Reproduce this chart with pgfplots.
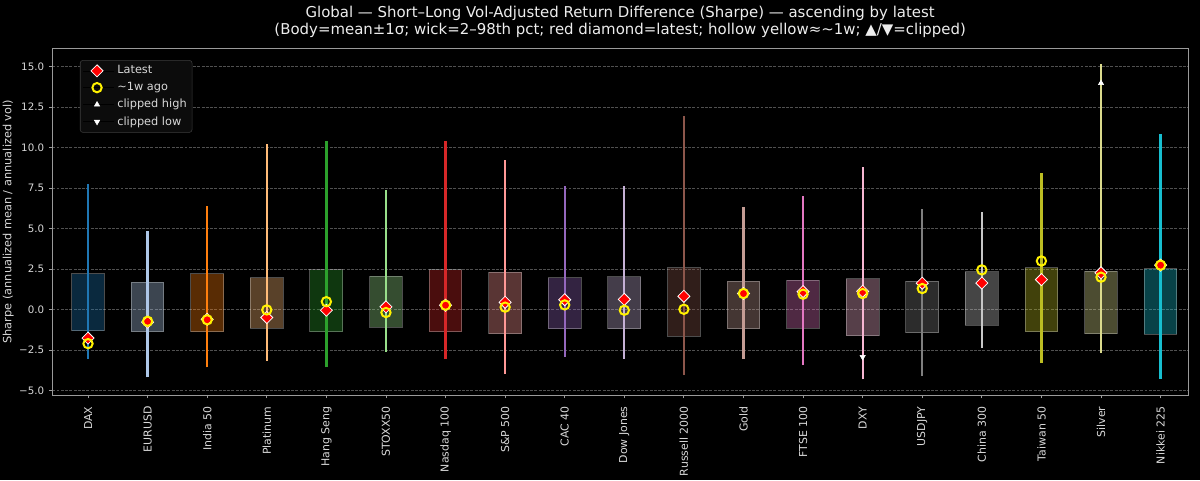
\documentclass[border=0pt]{standalone}
\usepackage{fontspec}
\setmainfont{DejaVu Sans}
\usepackage{pgfplots}
\usepackage{pgfplotstable}
\pgfplotsset{compat=1.18}

% tab20 colours, one per category
\definecolor{c0}{HTML}{1F77B4}
\definecolor{c1}{HTML}{AEC7E8}
\definecolor{c2}{HTML}{FF7F0E}
\definecolor{c3}{HTML}{FFBB78}
\definecolor{c4}{HTML}{2CA02C}
\definecolor{c5}{HTML}{98DF8A}
\definecolor{c6}{HTML}{D62728}
\definecolor{c7}{HTML}{FF9896}
\definecolor{c8}{HTML}{9467BD}
\definecolor{c9}{HTML}{C5B0D5}
\definecolor{c10}{HTML}{8C564B}
\definecolor{c11}{HTML}{C49C94}
\definecolor{c12}{HTML}{E377C2}
\definecolor{c13}{HTML}{F7B6D2}
\definecolor{c14}{HTML}{7F7F7F}
\definecolor{c15}{HTML}{C7C7C7}
\definecolor{c16}{HTML}{BCBD22}
\definecolor{c17}{HTML}{DBDB8D}
\definecolor{c18}{HTML}{17BECF}
\definecolor{ticktext}{HTML}{D8D8D8}
\definecolor{spine}{HTML}{9A9A9A}
\definecolor{gridc}{HTML}{505050}
\definecolor{legfill}{HTML}{0C0C0C}
\definecolor{legedge}{HTML}{3C3C3C}

% latest and ~1w ago values
\pgfplotstableread{
x  latest  prev
0  -1.76  -2.10
1  -0.78  -0.72
2  -0.60  -0.63
3  -0.49  -0.02
4  -0.04   0.49
5   0.17  -0.18
6   0.27   0.27
7   0.45   0.15
8   0.61   0.29
9   0.63  -0.04
10  0.82   0.02
11  0.99   0.99
12  1.11   0.95
13  1.13   0.99
14  1.63   1.30
15  1.64   2.45
16  1.85   3.00
17  2.27   2.00
18  2.74   2.74
}\marks

% x, left, right, colour, wick low, wick high, body low, body high
\newcommand{\cand}[8]{%
  \addplot[forget plot, draw=white, draw opacity=0.3, fill=#4, fill opacity=0.35, line width=0.75pt]
    coordinates {(#2,#7) (#3,#7) (#3,#8) (#2,#8)} -- cycle;
  \addplot[forget plot, #4, line width=1.7pt] coordinates {(#1,#5) (#1,#6)};
}

\begin{document}
\begin{tikzpicture}
\fill[black] (0,0) rectangle (900pt,360pt);
\useasboundingbox (0,0) rectangle (900pt,360pt);
\begin{axis}[
  at={(39.2pt,63.75pt)}, anchor=south west,
  scale only axis, width=851.8pt, height=260pt,
  xmin=-0.6, xmax=18.46, ymin=-5.27, ymax=16.12,
  xtick={0,...,18},
  xticklabels={DAX, EURUSD, India 50, Platinum, Hang Seng, STOXX50, Nasdaq 100, S\&P 500, CAC 40, Dow Jones, Russell 2000, Gold, FTSE 100, DXY, USDJPY, China 300, Taiwan 50, Silver, Nikkei 225},
  ytick={-5,-2.5,0,2.5,5,7.5,10,12.5,15},
  yticklabels={−5.0, −2.5, 0.0, 2.5, 5.0, 7.5, 10.0, 12.5, 15.0},
  ticklabel style={text=ticktext},
  xticklabel style={rotate=90, anchor=east, xshift=-2.5pt, font=\fontsize{8.2}{9.5}\selectfont},
  yticklabel style={font=\fontsize{7.7}{9}\selectfont},
  tick pos=left, tick align=outside,
  major tick length=2.6pt,
  every tick/.style={spine, line width=0.6pt},
  axis line style={spine, line width=0.6pt},
  ymajorgrids,
  grid style={gridc, line width=0.6pt, dash pattern=on 2.2pt off 1pt},
  ylabel={Sharpe (annualized mean / annualized vol)},
  every axis y label/.style={at={(axis description cs:0,0.5)}, xshift=-33pt, rotate=90, anchor=center,
    font=\fontsize{8.5}{10}\selectfont, text=ticktext},
  title={Global — Short–Long Vol-Adjusted Return Difference (Sharpe) — ascending by latest\\(Body=mean±1σ; wick=2–98th pct; red diamond=latest; hollow yellow≈\textasciitilde 1w; ▲/▼=clipped)},
  title style={align=center, font=\fontsize{11.2}{12.8}\selectfont, text=white!93!black, at={(0.5,1)}, anchor=south, yshift=-1.5pt},
  legend style={at={(0.0244,0.966)}, anchor=north west, fill=legfill, draw=legedge, rounded corners=2pt,
    text=ticktext, font=\fontsize{8.5}{10}\selectfont, row sep=0.9pt, inner sep=2pt},
  legend cell align=left,
  legend image code/.code={\path (0pt,0pt) -- (23.4pt,0pt); \draw[#1] plot coordinates {(10.4pt,0pt)};},
]
\cand{0}{-0.275}{0.275}{c0}{-3.06}{7.74}{-1.32}{2.20}
\cand{1}{0.725}{1.275}{c1}{-4.18}{4.86}{-1.36}{1.69}
\cand{2}{1.725}{2.275}{c2}{-3.56}{6.40}{-1.36}{2.20}
\cand{3}{2.725}{3.275}{c3}{-3.15}{10.23}{-1.15}{1.98}
\cand{4}{3.725}{4.275}{c4}{-3.56}{10.43}{-1.36}{2.47}
\cand{5}{4.725}{5.275}{c5}{-2.61}{7.39}{-1.09}{2.06}
\cand{6}{5.725}{6.275}{c6}{-3.06}{10.41}{-1.36}{2.45}
\cand{7}{6.725}{7.275}{c7}{-3.97}{9.20}{-1.48}{2.31}
\cand{8}{7.725}{8.275}{c8}{-2.94}{7.62}{-1.19}{1.96}
\cand{9}{8.725}{9.275}{c9}{-3.02}{7.60}{-1.19}{2.02}
\cand{10}{9.725}{10.275}{c10}{-4.01}{11.94}{-1.64}{2.59}
\cand{11}{10.725}{11.275}{c11}{-3.06}{6.34}{-1.19}{1.75}
\cand{12}{11.725}{12.275}{c12}{-3.43}{7.00}{-1.15}{1.81}
\cand{13}{12.725}{13.275}{c13}{-4.30}{8.79}{-1.60}{1.90}
\cand{14}{13.725}{14.275}{c14}{-4.07}{6.22}{-1.44}{1.75}
\cand{15}{14.725}{15.275}{c15}{-2.38}{6.03}{-0.96}{2.35}
\cand{16}{15.725}{16.275}{c16}{-3.31}{8.40}{-1.36}{2.59}
\cand{17}{16.725}{17.275}{c17}{-2.69}{15.15}{-1.48}{2.37}
\cand{18}{17.725}{18.275}{c18}{-4.28}{10.86}{-1.52}{2.51}

\addplot[only marks, mark=square*, mark size=3.2pt,
  mark options={rotate=45, fill=red, draw=white, line width=0.6pt}]
  table[x=x, y=latest] {\marks};
\addlegendentry{Latest}
\addplot[only marks, mark=o, mark size=3.5pt,
  mark options={draw=yellow, line width=1.5pt}]
  table[x=x, y=prev] {\marks};
\addlegendentry{\textasciitilde 1w ago}
\addplot[only marks, mark=triangle*, mark size=2.3pt,
  mark options={fill=white, draw=white}]
  coordinates {(17,13.97)};
\addlegendentry{clipped high}
\addplot[only marks, mark=triangle*, mark size=2.3pt,
  mark options={fill=white, draw=white, rotate=180}]
  coordinates {(13,-2.92)};
\addlegendentry{clipped low}
\end{axis}
\end{tikzpicture}
\end{document}
